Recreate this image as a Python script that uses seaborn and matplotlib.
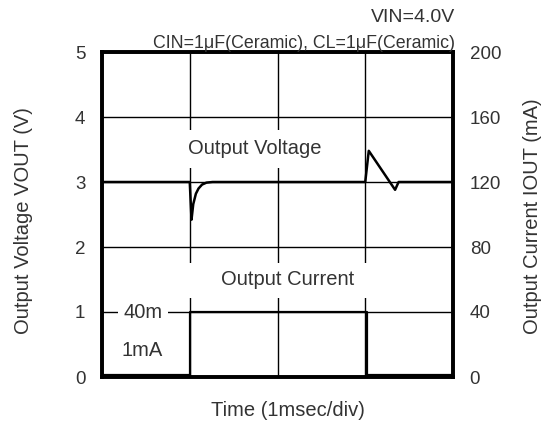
import matplotlib
matplotlib.use("Agg")
import matplotlib.pyplot as plt
from matplotlib.patches import Rectangle
import seaborn as sns
import pandas as pd

# ---- data ----
time_v = [0.0, 1.0, 1.02, 1.04, 1.07, 1.10, 1.14, 1.19, 1.26, 3.0, 3.04, 3.34, 3.38, 4.0]
vout = [3.0, 3.0, 2.42, 2.66, 2.82, 2.90, 2.96, 2.99, 3.0, 3.0, 3.48, 2.88, 3.0, 3.0]
time_i = [0.0, 1.0, 1.0, 3.02, 3.02, 4.0]
iout = [1, 1, 40, 40, 1, 1]
v_ticks = [0, 1, 2, 3, 4, 5]
i_ticks = [0, 40, 80, 120, 160, 200]
t_grid = [0, 1, 2, 3, 4]

sns.set_style("white")
plt.rcParams["font.family"] = ["Liberation Sans", "DejaVu Sans"]
txt = "#333333"

fig = plt.figure(figsize=(5.54, 4.25), dpi=100)
ax = fig.add_axes([102 / 554, 1 - 377 / 425, 351 / 554, 325 / 425])
ax2 = ax.twinx()

dv = pd.DataFrame({"t": time_v, "v": vout})
di = pd.DataFrame({"t": time_i, "i": iout})

ax.set_xlim(0, 4)
ax.set_ylim(0, 5)
ax2.set_ylim(0, 200)
ax.set_xticks(t_grid)
ax.set_xticklabels([])
ax.set_yticks(v_ticks)
ax.set_yticklabels([str(v) for v in v_ticks])
ax2.set_yticks(i_ticks)
ax2.set_yticklabels([str(v) for v in i_ticks])
ax.grid(True, color="black", linewidth=1.0)
ax.set_axisbelow(True)
ax.tick_params(axis="both", length=0, pad=12, labelsize=13.5, labelcolor=txt)
ax2.tick_params(axis="y", length=0, pad=12, labelsize=13.5, labelcolor=txt)
ax2.grid(False)

for a in (ax, ax2):
    for s in a.spines.values():
        s.set_linewidth(2.6)
        s.set_color("black")

# white boxes interrupting the grid behind labels
ax.add_patch(Rectangle((0.9, 3.215), 1.75, 0.585, facecolor="white", edgecolor="none", zorder=1))
ax.add_patch(Rectangle((0.95, 1.215), 2.15, 0.54, facecolor="white", edgecolor="none", zorder=1))

sns.lineplot(data=dv, x="t", y="v", ax=ax, color="black", linewidth=1.8, zorder=3,
             estimator=None, sort=False)
sns.lineplot(data=di, x="t", y="i", ax=ax2, color="black", linewidth=1.6, zorder=3,
             estimator=None, sort=False)
ax2.set_zorder(ax.get_zorder() + 1)
ax2.patch.set_visible(False)

ax.set_xlabel("")
ax.set_ylabel("")
ax2.set_ylabel("")

ax.text(1.74, 3.52, "Output Voltage", ha="center", va="center", fontsize=14.5, color=txt, zorder=4)
ax.text(2.12, 1.5, "Output Current", ha="center", va="center", fontsize=14.5, color=txt, zorder=4)
ax.text(0.47, 1.0, "40m", ha="center", va="center", fontsize=14.5, color=txt, zorder=4,
        bbox=dict(facecolor="white", edgecolor="none", pad=4))
ax.text(0.46, 0.4, "1mA", ha="center", va="center", fontsize=14.5, color=txt, zorder=4)

fig.text(455 / 554, 1 - 18 / 425, "VIN=4.0V", ha="right", va="center", fontsize=14, color=txt)
fig.text(455 / 554, 1 - 44 / 425, "CIN=1\u03bcF(Ceramic), CL=1\u03bcF(Ceramic)", ha="right", va="center",
         fontsize=12.8, color=txt)
fig.text(288 / 554, 1 - 410 / 425, "Time (1msec/div)", ha="center", va="center", fontsize=14.5, color=txt)
fig.text(24 / 554, 1 - 221 / 425, "Output Voltage VOUT (V)", ha="center", va="center", rotation=90,
         fontsize=14.5, color=txt)
fig.text(532 / 554, 1 - 216 / 425, "Output Current IOUT (mA)", ha="center", va="center", rotation=90,
         fontsize=14.5, color=txt)

fig.savefig("out.png", dpi=100)
